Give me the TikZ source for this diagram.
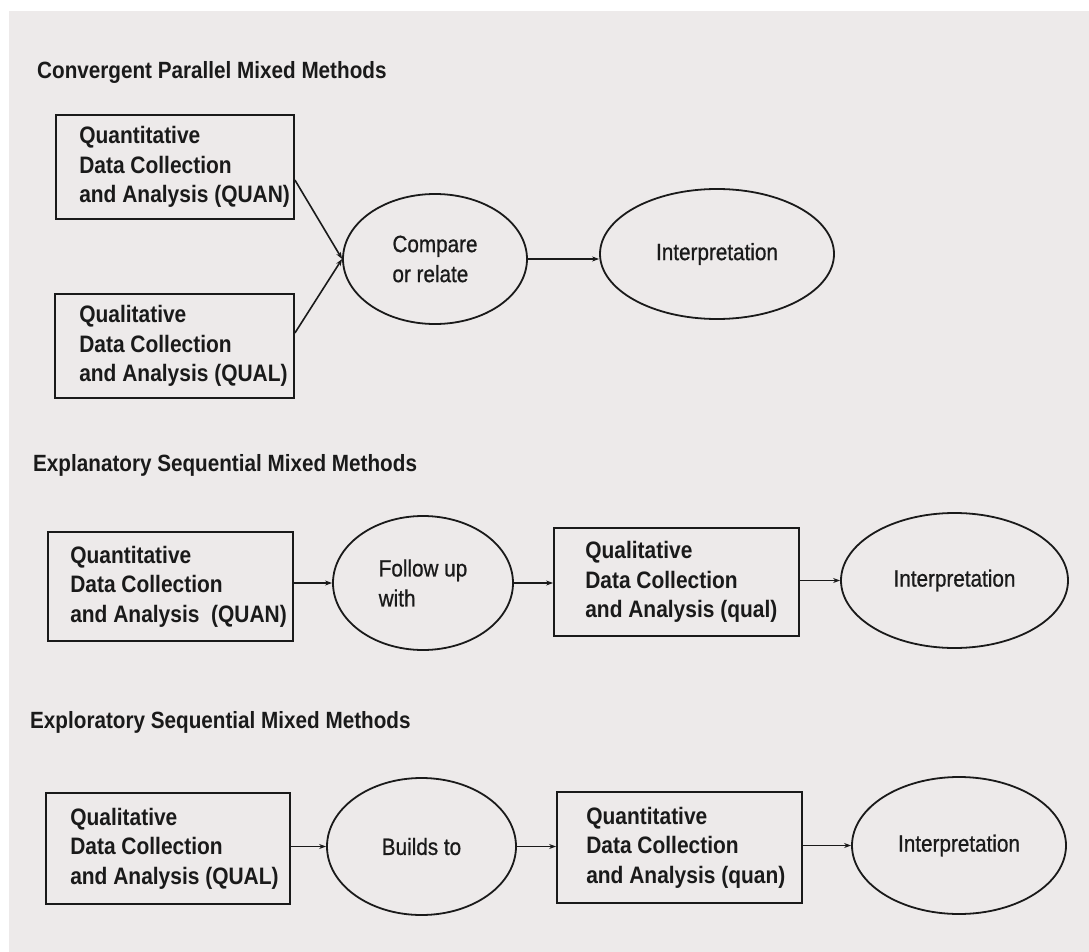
\documentclass[tikz,border=0pt]{standalone}
\usepackage{fontspec}
\setmainfont{Liberation Sans}[FakeStretch=0.88]
\newfontfamily\ovalfont{Liberation Sans}[FakeStretch=0.88, FakeBold=0.8]
\usetikzlibrary{shapes.geometric,arrows.meta}
\definecolor{paper}{RGB}{237,234,234}
\definecolor{ink}{RGB}{26,26,26}

\begin{document}
\begin{tikzpicture}[x=1pt,y=-1pt,
  every node/.style={text=ink},
  procbox/.style={draw=ink, line width=1.8pt, rectangle, inner sep=0pt},
  oval/.style={draw=ink, line width=1.8pt, ellipse, inner sep=0pt, align=left,
               font=\ovalfont\fontsize{23.5}{30}\selectfont},
  boxtext/.style={anchor=west, align=left, inner sep=0pt,
                  font=\fontsize{23.8}{29.5}\selectfont\bfseries},
  heading/.style={anchor=west, inner sep=0pt, font=\fontsize{23.5}{26}\selectfont\bfseries},
  flow/.style={draw=ink, line width=1.6pt, -{Stealth[length=7pt,width=5pt]}},
]
\useasboundingbox (0,0) rectangle (1089,952);
\fill[white] (0,0) rectangle (1089,952);
\fill[paper] (9,11) rectangle (1089,952);

% ---------- Convergent parallel design ----------
\node[heading] (h1) at (37,72) {Convergent Parallel Mixed Methods};

\node[procbox, minimum width=238pt, minimum height=104pt] (r1a) at (175,167) {};
\node[boxtext] (r1at) at ([xshift=24pt]r1a.west) {Quantitative\\Data Collection\\and Analysis (QUAN)};
\node[procbox, minimum width=239pt, minimum height=104pt] (r1b) at (174.5,346) {};
\node[boxtext] (r1bt) at ([xshift=25pt]r1b.west) {Qualitative\\Data Collection\\and Analysis (QUAL)};

\node[oval, minimum width=184pt, minimum height=130pt] (cmp) at (435,259) {Compare\\or relate};
\node[oval, minimum width=234pt, minimum height=130pt] (int1) at (717,254) {Interpretation};

\draw[flow] ([yshift=-13pt]r1a.east) -- (cmp.west);
\draw[flow] ([yshift=13pt]r1b.east) -- (cmp.west);
\draw[flow] (cmp.east) -- (cmp.east -| int1.west);

% ---------- Explanatory sequential design ----------
\node[heading] (h2) at (33,465) {Explanatory Sequential Mixed Methods};

\node[procbox, minimum width=245pt, minimum height=109pt] (r2a) at (170.5,586.5) {};
\node[boxtext] (r2at) at ([xshift=23pt]r2a.west) {Quantitative\\Data Collection\\and Analysis\ \ (QUAN)};
\node[oval, minimum width=180pt, minimum height=134pt] (fol) at (423,583) {Follow up\\with};
\node[procbox, minimum width=245pt, minimum height=108pt] (r2c) at (676.5,582) {};
\node[boxtext] (r2ct) at ([xshift=32pt]r2c.west) {Qualitative\\Data Collection\\and Analysis (qual)};
\node[oval, minimum width=227pt, minimum height=135pt] (int2) at (954.5,580.5) {Interpretation};

\draw[flow] (r2a.east |- fol.west) -- (fol.west);
\draw[flow] (fol.east) -- (fol.east -| r2c.west);
\draw[flow] (r2c.east |- int2.west) -- (int2.west);

% ---------- Exploratory sequential design ----------
\node[heading] (h3) at (30,722) {Exploratory Sequential Mixed Methods};

\node[procbox, minimum width=244pt, minimum height=111pt] (r3a) at (168,848.5) {};
\node[boxtext] (r3at) at ([xshift=25pt]r3a.west) {Qualitative\\Data Collection\\and Analysis (QUAL)};
\node[oval, minimum width=189pt, minimum height=137pt] (bld) at (421.5,846.5) {Builds to};
\node[procbox, minimum width=245pt, minimum height=111pt] (r3c) at (679.5,847.5) {};
\node[boxtext] (r3ct) at ([xshift=30pt]r3c.west) {Quantitative\\Data Collection\\and Analysis (quan)};
\node[oval, minimum width=214pt, minimum height=137pt] (int3) at (959,845.5) {Interpretation};

\draw[flow] (r3a.east |- bld.west) -- (bld.west);
\draw[flow] (bld.east) -- (bld.east -| r3c.west);
\draw[flow] (r3c.east |- int3.west) -- (int3.west);
\end{tikzpicture}
\end{document}
